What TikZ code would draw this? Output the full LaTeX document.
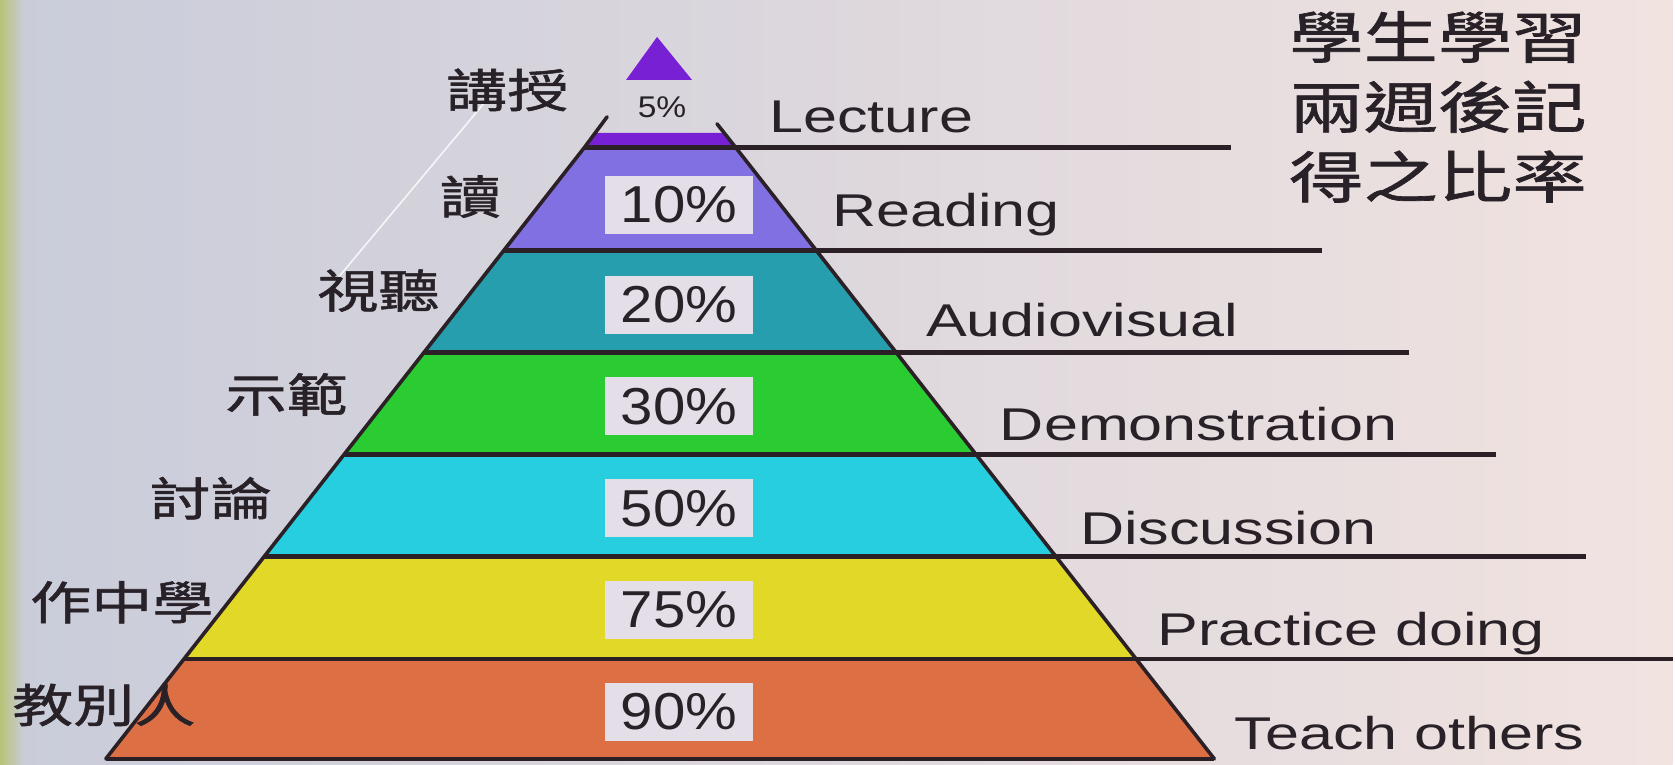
\documentclass[tikz,border=0pt]{standalone}
\usepackage{fontspec}
\setmainfont{Liberation Sans}[FakeStretch=1.33]
\newfontfamily\pctfont{Liberation Sans}[FakeStretch=1.12]
\newfontfamily\cjk{Noto Sans CJK TC}[FakeStretch=1.33,FakeBold=1.2]
\usepackage{tikz}
\usepackage{xcolor}

\definecolor{bgleft}{RGB}{201,204,218}
\definecolor{bgmid}{RGB}{214,206,214}
\definecolor{bgright}{RGB}{241,227,224}
\definecolor{bgstrip}{RGB}{184,194,118}
\definecolor{clect}{RGB}{120,32,212}
\definecolor{cread}{RGB}{128,112,226}
\definecolor{caudio}{RGB}{38,158,174}
\definecolor{cdemo}{RGB}{42,204,50}
\definecolor{cdisc}{RGB}{38,206,224}
\definecolor{cprac}{RGB}{226,216,40}
\definecolor{cteach}{RGB}{220,112,68}
\definecolor{linedark}{RGB}{42,32,38}
\definecolor{pctbox}{RGB}{228,222,232}
\definecolor{txtdark}{RGB}{40,34,40}

\begin{document}
\begin{tikzpicture}[x=0.5pt,y=0.5pt,yscale=-1,xscale=1,
  rim/.style={draw=linedark,line width=2.4pt},
  side/.style={draw=linedark,line width=1.8pt,line cap=round},
  pct/.style={fill=pctbox,text=txtdark,inner sep=0pt,minimum width=74pt,minimum height=29pt,font=\pctfont\fontsize{26}{28}\selectfont},
  eng/.style={anchor=base west,inner sep=0pt,text=txtdark,font=\fontsize{23}{26}\selectfont},
  zh/.style={inner sep=0pt,text=txtdark,font=\cjk\fontsize{23}{26}\selectfont}]

%Shape: Rectangle (background)
\shade[left color=bgleft, middle color=bgmid, right color=bgright] (0,0) rectangle (1675,766);
\shade[left color=bgstrip, right color=bgleft] (0,0) rectangle (24,766);
%Straight Lines (shooting star)
\draw[white, opacity=0.8, line width=0.8pt] (485,103) -- (337,280);

%corners of the levels
\coordinate (l0) at (585,148);   \coordinate (r0) at (737,148);    \coordinate (e0) at (1233,148);
\coordinate (l1) at (504.4,251); \coordinate (r1) at (817.6,251);  \coordinate (e1) at (1324,251);
\coordinate (l2) at (424.5,353); \coordinate (r2) at (897.5,353);  \coordinate (e2) at (1411,353);
\coordinate (l3) at (344.7,455); \coordinate (r3) at (977.3,455);  \coordinate (e3) at (1498,455);
\coordinate (l4) at (264.8,557); \coordinate (r4) at (1057.2,557); \coordinate (e4) at (1588,557);
\coordinate (l5) at (184.2,660); \coordinate (r5) at (1137.8,660); \coordinate (e5) at (1675,660);
\coordinate (l6) at (105.9,760); \coordinate (r6) at (1216.1,760);

%Shape: Trapezoid
\fill[cread]  (l0) -- (r0) -- (r1) -- (l1) -- cycle;
\fill[caudio] (l1) -- (r1) -- (r2) -- (l2) -- cycle;
\fill[cdemo]  (l2) -- (r2) -- (r3) -- (l3) -- cycle;
\fill[cdisc]  (l3) -- (r3) -- (r4) -- (l4) -- cycle;
\fill[cprac]  (l4) -- (r4) -- (r5) -- (l5) -- cycle;
\fill[cteach] (l5) -- (r5) -- (r6) -- (l6) -- cycle;

%Shape: Triangle (top)
\coordinate (tip) at (658,37); \coordinate (tl) at (627,80); \coordinate (tr) at (693,80);
\fill[clect] (tip) -- (tr) -- (tl) -- cycle;
\coordinate (sl) at (597,133); \coordinate (sr) at (725,133);
\fill[clect] (sl) -- (sr) -- (r0) -- (l0) -- cycle;

%Straight Lines
\coordinate (ul) at (608,117); \coordinate (ur) at (718,124);
\draw[side] (ul) -- (l0) -- (l6);
\draw[side] (ur) -- (r0) -- (r6);
\draw[rim] (l0) -- (e0);
\draw[rim] (l1) -- (e1);
\draw[rim] (l2) -- (e2);
\draw[rim] (l3) -- (e3);
\draw[rim] (l4) -- (e4);
\draw[rim] (l5) -- (e5);
\draw[rim] (l6) -- (r6);

% Text Node
\draw (663,107) node (p5) [inner sep=0pt,text=txtdark,font=\pctfont\fontsize{15}{16}\selectfont] {5\%};
% Text Node
\draw (680,205) node (p10) [pct] {10\%};
% Text Node
\draw (680,305) node (p20) [pct] {20\%};
% Text Node
\draw (680,407) node (p30) [pct] {30\%};
% Text Node
\draw (680,509) node (p50) [pct] {50\%};
% Text Node
\draw (680,611) node (p75) [pct] {75\%};
% Text Node
\draw (680,713) node (p90) [pct] {90\%};

% Text Node
\draw (770,133) node (lec) [eng] {Lecture};
% Text Node
\draw (833,227) node (rea) [eng] {Reading};
% Text Node
\draw (927,337) node (aud) [eng] {Audiovisual};
% Text Node
\draw (1001,441) node (dem) [eng] {Demonstration};
% Text Node
\draw (1082,545) node (dis) [eng] {Discussion};
% Text Node
\draw (1159,646) node (pra) [eng] {Practice doing};
% Text Node
\draw (1236,751) node (tea) [eng] {Teach others};

% Text Node
\draw (508,90) node (zlec) [zh] {講授};
% Text Node
\draw (471,197) node (zrea) [zh] {讀};
% Text Node
\draw (379,291) node (zaud) [zh] {視聽};
% Text Node
\draw (287,395) node (zdem) [zh] {示範};
% Text Node
\draw (211,499) node (zdis) [zh] {討論};
% Text Node
\draw (122,603) node (zpra) [zh] {作中學};
% Text Node
\draw (104,706) node (ztea) [zh] {教別人};

% Text Node
\draw (1440,107) node (title) [zh,align=center,font=\cjk\fontsize{28}{35}\selectfont] {學生學習\\兩週後記\\得之比率};

\end{tikzpicture}
\end{document}
